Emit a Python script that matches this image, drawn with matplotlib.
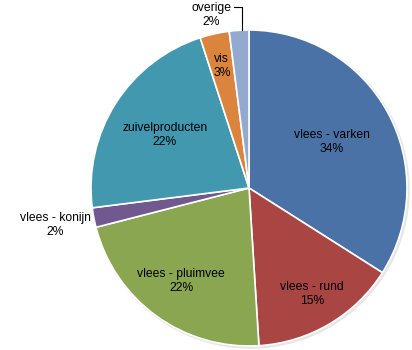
import matplotlib.pyplot as plt
import numpy as np

labels = ["vlees - varken", "vlees - rund", "vlees - pluimvee", "vlees - konijn",
          "zuivelproducten", "vis", "overige"]
shares = [34, 15, 22, 2, 22, 3, 2]
colors = ["#4A72A6", "#A94643", "#8BA650", "#71598F", "#4198AF", "#DB843D", "#94A9CF"]
# radial position of each label, as a fraction of the radius
label_dist = [0.60, 0.78, 0.73, 1.25, 0.63, 0.79, 1.12]

fig = plt.figure(figsize=(4.12, 3.5), dpi=100)
ax = fig.add_axes([0, 0, 1, 1])
ax.set_xlim(0, 412)
ax.set_ylim(0, 350)
ax.set_aspect("equal")
ax.axis("off")

cx, cy, r = 249, 162, 158

# soft shadow
shadow = plt.Circle((cx + 1.5, cy - 1.5), r + 0.5, color="#e6e6e6", zorder=0)
ax.add_patch(shadow)

wedges, _ = ax.pie(shares, colors=colors, startangle=90, counterclock=False,
                   center=(cx, cy), radius=r,
                   wedgeprops=dict(edgecolor="white", linewidth=1.2))
ax.set_xlim(0, 412)
ax.set_ylim(0, 350)

for w, lab, s, d in zip(wedges, labels, shares, label_dist):
    ang = np.deg2rad((w.theta1 + w.theta2) / 2)
    if lab == "overige":
        ang = np.deg2rad(102.3)
    x = cx + d * r * np.cos(ang)
    y = cy + d * r * np.sin(ang)
    ax.text(x, y, "%s\n%d%%" % (lab, s), ha="center", va="center",
            fontsize=8.7, family="Liberation Sans", linespacing=1.2)

# leader line for "overige"
ax.plot([234, 242, 242], [343, 343, 320], color="black", lw=0.8)

fig.savefig("out.png", dpi=100)
